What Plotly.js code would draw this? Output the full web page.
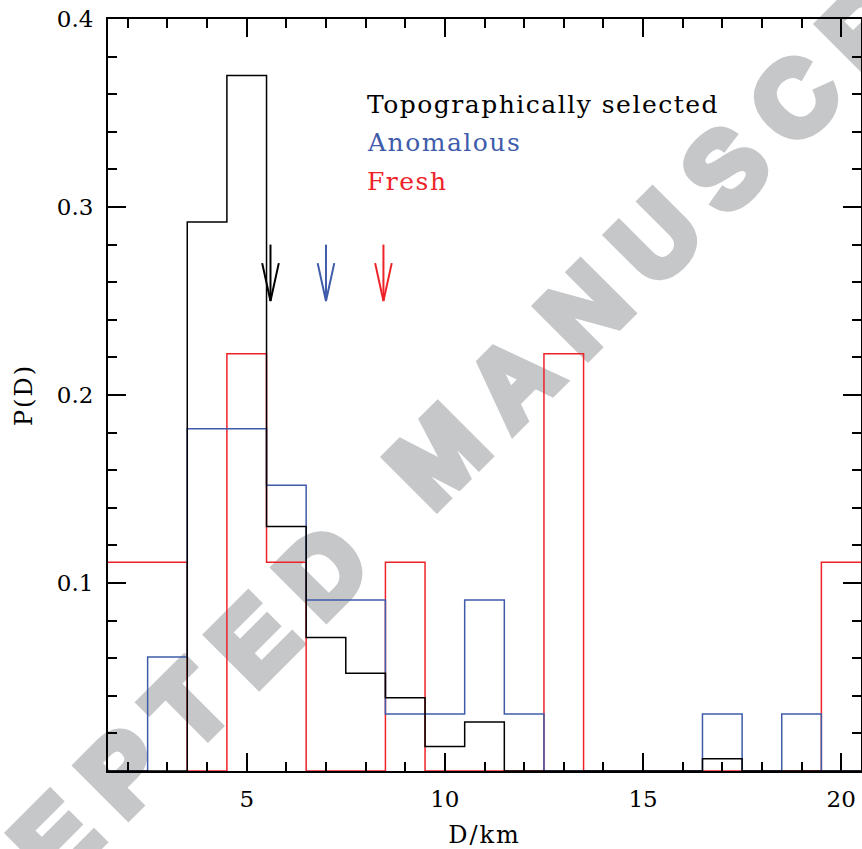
<!DOCTYPE html>
<html>
<head>
<meta charset="utf-8">
<script src="https://cdn.plot.ly/plotly-3.0.1.min.js"></script>
<style>
  body { margin: 0; padding: 0; background: #ffffff; }
  #chart { width: 862px; height: 849px; }
  .shapelayer text { letter-spacing: 26px; font-weight: 700 !important; stroke: #c6c7c9; stroke-width: 9px; stroke-linejoin: miter; }
  .annotation-text { letter-spacing: 1.5px; }
  .xtitle, .ytitle { letter-spacing: 2px; }
</style>
</head>
<body>
<div id="chart"></div>
<script>
// Bin centres (km); each bin is 1 km wide
const binCenters = [2, 3, 4, 5, 6, 7, 8, 9, 10, 11, 12, 13, 14, 15, 16, 17, 18, 19, 20];
const topoValues = [0, 0, 0.292, 0.370, 0.130, 0.071, 0.052, 0.039, 0.013, 0.026, 0, 0, 0, 0, 0, 0.0065, 0, 0, 0];
const anomValues = [0, 0.0606, 0.182, 0.182, 0.152, 0.0909, 0.0909, 0.0303, 0.0303, 0.0909, 0.0303, 0, 0, 0, 0, 0.0303, 0, 0.0303, 0];
const freshValues = [0.111, 0.111, 0, 0.222, 0.111, 0, 0, 0.111, 0, 0, 0, 0.222, 0, 0, 0, 0, 0, 0, 0.111];

// Mean-diameter markers (arrows)
const arrowX = [5.6, 7.0, 8.45];
const arrowTop = 0.280;
const arrowTip = 0.250;

const seriesNames = ['Topographically selected', 'Anomalous', 'Fresh'];
const seriesColors = ['#000000', '#3f5cab', '#ee2229'];

const xTickVals = [5, 10, 15, 20];
const yTickVals = [0.1, 0.2, 0.3, 0.4];
const yTickText = ['0.1', '0.2', '0.3', '0.4'];

const binWidth = 1;

function stepTrace(values, color, name) {
  const x = binCenters.map(c => c - binWidth / 2);
  x.push(binCenters[binCenters.length - 1] + binWidth / 2);
  const y = values.slice();
  y.push(values[values.length - 1]);
  return {
    type: 'scatter', mode: 'lines', x: x, y: y, name: name,
    line: { shape: 'hv', color: color, width: 1.5 },
    hoverinfo: 'skip', showlegend: false, cliponaxis: true
  };
}

function arrowTrace(xv, color) {
  const headHalfW = 0.21;
  const headLen = 0.0096;
  return {
    type: 'scatter', mode: 'lines',
    x: [xv, xv, null, xv - headHalfW, xv, xv + headHalfW],
    y: [arrowTop, arrowTip, null, arrowTip + headLen * 2.1, arrowTip, arrowTip + headLen * 2.1],
    line: { color: color, width: 2 },
    hoverinfo: 'skip', showlegend: false
  };
}

const traces = [
  stepTrace(freshValues, seriesColors[2], seriesNames[2]),
  stepTrace(anomValues, seriesColors[1], seriesNames[1]),
  stepTrace(topoValues, seriesColors[0], seriesNames[0]),
  arrowTrace(arrowX[0], seriesColors[0]),
  arrowTrace(arrowX[1], seriesColors[1]),
  arrowTrace(arrowX[2], seriesColors[2])
];

const serif = 'DejaVu Serif, serif';

const axisCommon = {
  showgrid: false, zeroline: false, showline: true, linecolor: '#000', linewidth: 2,
  mirror: 'allticks', ticks: 'inside', ticklen: 18, tickwidth: 2, tickcolor: '#000',
  tickfont: { family: serif, size: 23, color: '#000' }
};

const layout = {
  width: 862, height: 849,
  margin: { l: 108, r: 1, t: 19, b: 78 },
  paper_bgcolor: '#ffffff', plot_bgcolor: 'rgba(0,0,0,0)',
  showlegend: false,
  xaxis: Object.assign({}, axisCommon, {
    range: [1.5, 20.5], tickmode: 'array', tickvals: xTickVals,
    ticklabelstandoff: 6,
    minor: { dtick: 1, tick0: 0, ticks: 'inside', ticklen: 9, tickwidth: 2, tickcolor: '#000', showgrid: false },
    title: { text: 'D/km', font: { family: serif, size: 24, color: '#000' }, standoff: 17 }
  }),
  yaxis: Object.assign({}, axisCommon, {
    range: [0, 0.4], tickmode: 'array', tickvals: yTickVals, ticktext: yTickText,
    ticklabelstandoff: 8,
    minor: { dtick: 0.02, tick0: 0, ticks: 'inside', ticklen: 9, tickwidth: 2, tickcolor: '#000', showgrid: false },
    title: { text: 'P(D)', font: { family: serif, size: 24, color: '#000' }, standoff: 17 }
  }),
  annotations: [
    { text: seriesNames[0], x: 7.98, y: 0.3545, xref: 'x', yref: 'y', xanchor: 'left', yanchor: 'middle', showarrow: false, font: { family: serif, size: 25, color: seriesColors[0] } },
    { text: seriesNames[1], x: 7.98, y: 0.3342, xref: 'x', yref: 'y', xanchor: 'left', yanchor: 'middle', showarrow: false, font: { family: serif, size: 25, color: seriesColors[1] } },
    { text: seriesNames[2], x: 7.98, y: 0.3135, xref: 'x', yref: 'y', xanchor: 'left', yanchor: 'middle', showarrow: false, font: { family: serif, size: 25, color: seriesColors[2] } }
  ],
  shapes: [
    { type: 'rect', xref: 'paper', yref: 'paper', x0: 0.431, x1: 0.454, y0: 0.431, y1: 0.454,
      line: { width: 0 }, fillcolor: 'rgba(0,0,0,0)', layer: 'below',
      label: { text: 'ACCEPTED MANUSCRIPT', textangle: -45, textposition: 'middle center',
               font: { family: 'Liberation Sans, Arial, sans-serif', size: 104, color: '#c6c7c9', weight: 700 } } }
  ]
};

Plotly.newPlot('chart', traces, layout, { staticPlot: true, displayModeBar: false });
</script>
</body>
</html>
